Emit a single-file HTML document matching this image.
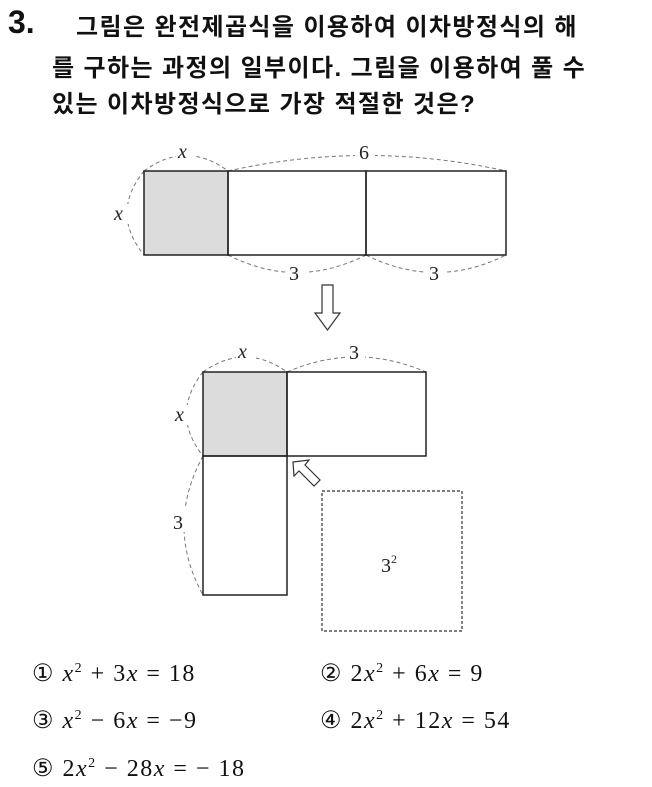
<!DOCTYPE html>
<html><head><style>
body{margin:0;width:652px;height:787px;background:#fff;font-family:"Liberation Sans","Noto Sans CJK KR",sans-serif;position:relative;overflow:hidden}
.t{position:absolute;font-weight:bold;font-size:24px;letter-spacing:1.4px;color:#111;white-space:nowrap}
.a{position:absolute;font-family:"Liberation Serif",serif;font-size:24px;letter-spacing:1.5px;color:#111;white-space:nowrap}
.a i{font-style:italic}
.a sup{font-size:14px}
</style></head><body>
<div class="t" style="left:8px;top:4px;font-size:32px;letter-spacing:0">3.</div>
<div class="t" style="left:76px;top:7px">그림은 완전제곱식을 이용하여 이차방정식의 해</div>
<div class="t" style="left:52px;top:48px">를 구하는 과정의 일부이다. 그림을 이용하여 풀 수</div>
<div class="t" style="left:52px;top:84px">있는 이차방정식으로 가장 적절한 것은?</div>
<svg width="652" height="787" style="position:absolute;left:0;top:0" font-family="Liberation Serif,serif" font-size="20" fill="#222">
<g fill="none" stroke="#777" stroke-dasharray="4,3" stroke-width="1">
<path d="M144 171 Q186 140 228 171"/><path d="M228 171 Q367 140 506 171"/>
<path d="M144 171 Q110 213 144 255"/>
<path d="M228 255 Q297 290 366 255"/><path d="M366 255 Q436 290 506 255"/>
<path d="M203 372 Q245 342 287 372"/><path d="M287 372 Q356 342 426 372"/>
<path d="M203 372 Q170 414 203 456"/><path d="M203 456 Q165 526 203 595"/>
</g>
<g fill="#fff"><rect x="176" y="143" width="20" height="18"/><rect x="355" y="141" width="20" height="20"/><rect x="113" y="204" width="16" height="20"/><rect x="286" y="262" width="20" height="22"/><rect x="426" y="262" width="20" height="22"/><rect x="236" y="343" width="20" height="18"/><rect x="345" y="341" width="20" height="20"/><rect x="172" y="405" width="18" height="20"/><rect x="169" y="508" width="20" height="24"/></g>
<text x="178" y="158" font-style="italic">x</text><text x="359" y="159">6</text>
<text x="114" y="220" font-style="italic">x</text>
<text x="289" y="280">3</text><text x="429" y="280">3</text>
<text x="238" y="358" font-style="italic">x</text><text x="349" y="359">3</text>
<text x="175" y="421" font-style="italic">x</text><text x="173" y="529">3</text>
<g stroke="#222" stroke-width="1.5">
<rect x="144" y="171" width="84" height="84" fill="#dcdcdc"/>
<rect x="228" y="171" width="138" height="84" fill="none"/>
<rect x="366" y="171" width="140" height="84" fill="none"/>
<rect x="203" y="372" width="84" height="84" fill="#dcdcdc"/>
<rect x="287" y="372" width="139" height="84" fill="none"/>
<rect x="203" y="456" width="84" height="139" fill="none"/>
</g>
<rect x="322" y="491" width="140" height="140" fill="none" stroke="#333" stroke-dasharray="3,2" stroke-width="1.2"/>
<text x="381" y="572">3<tspan font-size="12" dy="-9">2</tspan></text>
<path d="M322 285 H333 V313 H340 L327.5 330 L315 313 H322 Z" fill="#fff" stroke="#333" stroke-width="1.2"/>
<path d="M293 462 L309 460 L305 465 L320 480 L314 486 L299 471 L294 476 Z" fill="#fff" stroke="#333" stroke-width="1.2"/>
</svg>
<div class="a" style="left:32px;top:659px">① <i>x</i><sup>2</sup> + 3<i>x</i> = 18</div>
<div class="a" style="left:320px;top:659px">② 2<i>x</i><sup>2</sup> + 6<i>x</i> = 9</div>
<div class="a" style="left:32px;top:706px">③ <i>x</i><sup>2</sup> − 6<i>x</i> = −9</div>
<div class="a" style="left:320px;top:706px">④ 2<i>x</i><sup>2</sup> + 12<i>x</i> = 54</div>
<div class="a" style="left:32px;top:754px">⑤ 2<i>x</i><sup>2</sup> − 28<i>x</i> = − 18</div>
</body></html>
